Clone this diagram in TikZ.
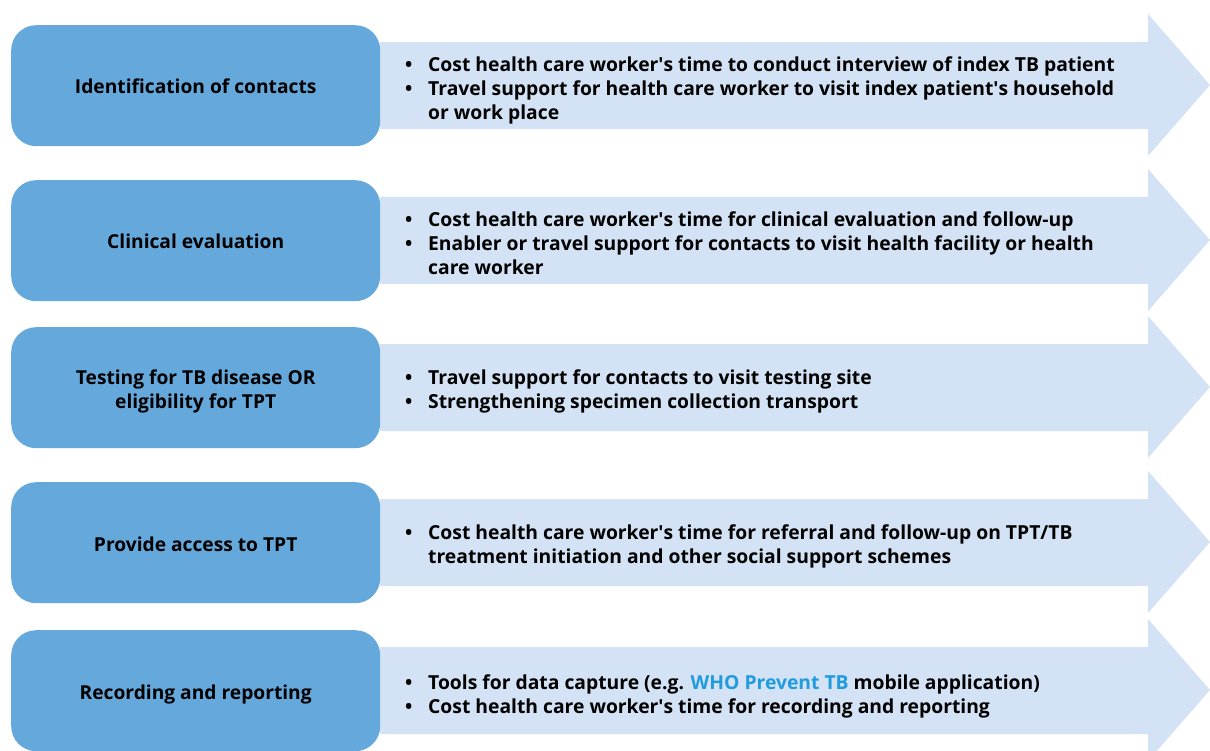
\documentclass[tikz,border=0pt]{standalone}
\usepackage{fontspec}
\setmainfont{Open Sans}
\definecolor{boxblue}{RGB}{101,169,220}
\definecolor{arrowblue}{RGB}{211,226,244}
\definecolor{linkblue}{RGB}{31,155,222}
\newcommand\bl{\textbullet}
\newcommand\q{\textquotesingle}
\newcommand\lbl[1]{\raisebox{-3.5pt}[\height][\depth]{\begin{tabular}{@{}c@{}}#1\end{tabular}}}
\begin{document}
\begin{tikzpicture}[x=1pt,y=-1pt,
  stage/.style={fill=boxblue, rounded corners=25pt, minimum width=369pt,
    minimum height=121pt, inner sep=0pt, anchor=north west,
    font=\bfseries\fontsize{19.2}{24}\selectfont},
  band/.style={fill=arrowblue},
  detail/.style={anchor=west, inner sep=0pt,
    font=\bfseries\fontsize{19.3}{24}\selectfont}]
\useasboundingbox (0,0) rectangle (1210,751);
% arrows
\fill[band] (380,42) -- (1148,42) -- (1148,14) -- (1210,85) -- (1148,156) -- (1148,129) -- (380,129) -- cycle;
\fill[band] (380,197) -- (1148,197) -- (1148,169) -- (1210,240) -- (1148,311) -- (1148,284) -- (380,284) -- cycle;
\fill[band] (380,344) -- (1148,344) -- (1148,316) -- (1210,387) -- (1148,458) -- (1148,431) -- (380,431) -- cycle;
\fill[band] (380,499) -- (1148,499) -- (1148,471) -- (1210,542) -- (1148,613) -- (1148,586) -- (380,586) -- cycle;
\fill[band] (380,647) -- (1148,647) -- (1148,619) -- (1210,690) -- (1148,761) -- (1148,734) -- (380,734) -- cycle;
% stages
\node[stage] (s1) at (11,25) {\lbl{Identification of contacts}};
\node[stage] (s2) at (11,180) {\lbl{Clinical evaluation}};
\node[stage] (s3) at (11,327) {\lbl{Testing for TB disease OR\\eligibility for TPT}};
\node[stage] (s4) at (11,482) {\lbl{Provide access to TPT}};
\node[stage] (s5) at (11,630) {\lbl{Recording and reporting}};
% details
\node[detail] (d1) at (405,91) {\begin{tabular}{@{}p{23pt}@{}l@{}}
\bl & Cost health care worker\q s time to conduct interview of index TB patient\\
\bl & Travel support for health care worker to visit index patient\q s household\\
 & or work place\end{tabular}};
\node[detail] (d2) at (405,246) {\begin{tabular}{@{}p{23pt}@{}l@{}}
\bl & Cost health care worker\q s time for clinical evaluation and follow-up\\
\bl & Enabler or travel support for contacts to visit health facility or health\\
 & care worker\end{tabular}};
\node[detail] (d3) at (405,392) {\begin{tabular}{@{}p{23pt}@{}l@{}}
\bl & Travel support for contacts to visit testing site\\
\bl & Strengthening specimen collection transport\end{tabular}};
\node[detail] (d4) at (405,547) {\begin{tabular}{@{}p{23pt}@{}l@{}}
\bl & Cost health care worker\q s time for referral and follow-up on TPT/TB\\
 & treatment initiation and other social support schemes\end{tabular}};
\node[detail] (d5) at (405,697) {\begin{tabular}{@{}p{23pt}@{}l@{}}
\bl & Tools for data capture (e.g. \textcolor{linkblue}{WHO Prevent TB} mobile application)\\
\bl & Cost health care worker\q s time for recording and reporting\end{tabular}};
\end{tikzpicture}
\end{document}
